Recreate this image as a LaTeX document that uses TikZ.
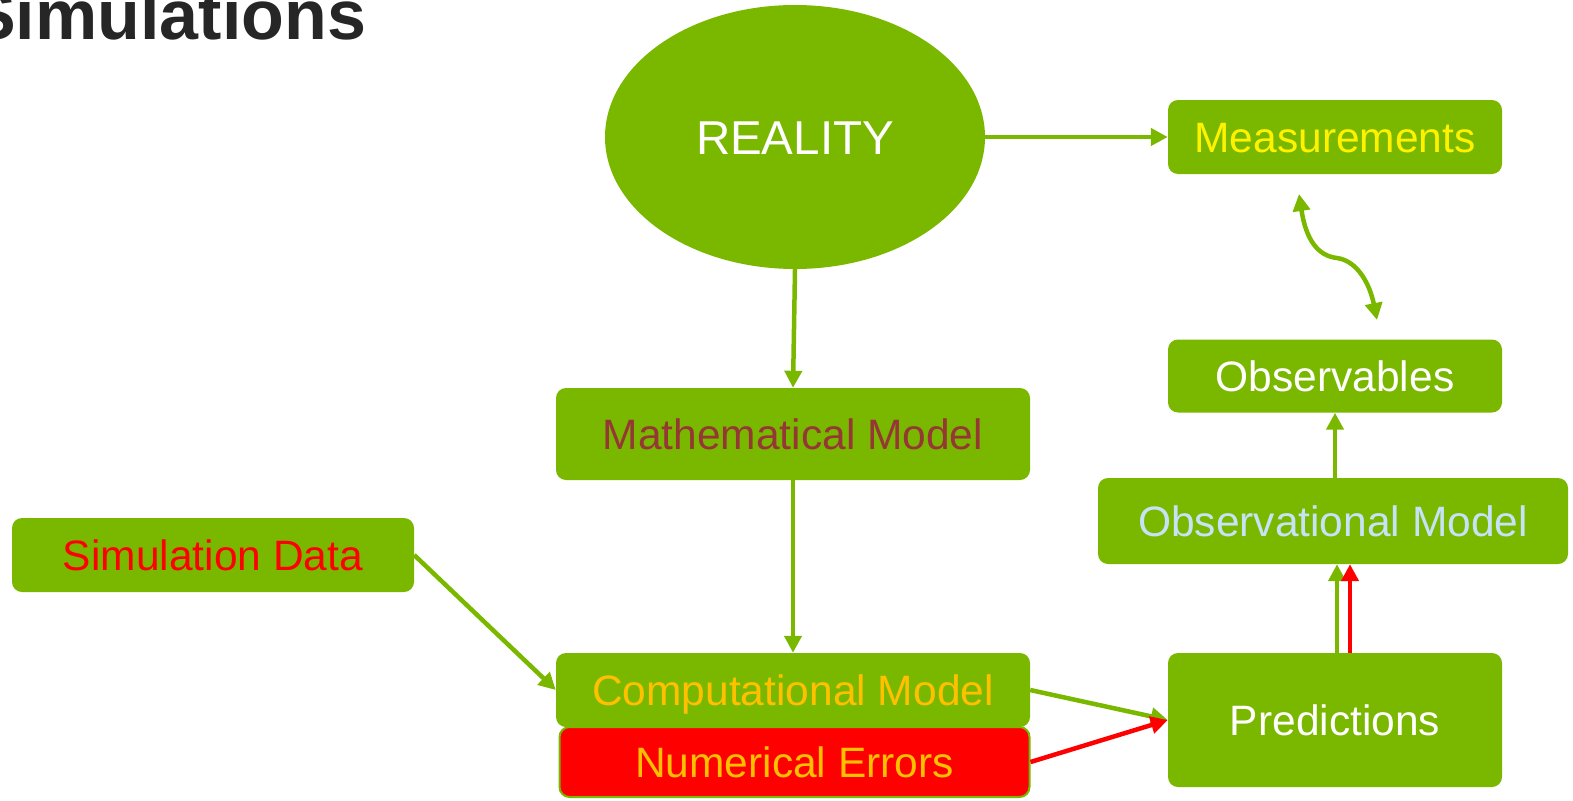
\documentclass[tikz,border=0pt]{standalone}
\usepackage{fontspec}
\setmainfont{Liberation Sans}
\usetikzlibrary{arrows.meta,shapes.geometric}
\definecolor{gr}{HTML}{7AB800}
\definecolor{titlec}{HTML}{262626}
\definecolor{mathc}{HTML}{953735}
\definecolor{obsmc}{HTML}{C6E2F7}
\definecolor{goldc}{HTML}{FFC000}
\begin{document}
\begin{tikzpicture}[x=1pt,y=-1pt,
  box/.style={fill=gr, rounded corners=10pt, inner sep=0pt,
    font=\fontsize{42.5}{50}\selectfont, text height=30pt, text depth=0pt},
  conn/.style={line width=4.5pt, -{Triangle[length=17pt,width=17pt]}},
  gconn/.style={conn, draw=gr},
  rconn/.style={conn, draw=red}]
\useasboundingbox (0,0) rectangle (1573,800);
\node[anchor=base west, font=\fontsize{70}{82}\selectfont\bfseries, text=titlec, inner sep=0pt] (title) at (-31,40) {Simulations};
\node[ellipse, fill=gr, minimum width=380pt, minimum height=264pt, inner sep=0pt,
  font=\fontsize{47.5}{56}\selectfont, text=white, text height=34pt, text depth=0pt] (real) at (795,137) {REALITY};
\node[box, minimum width=334pt, minimum height=74pt, text=yellow] (meas) at (1335,137) {Measurements};
\node[box, minimum width=334pt, minimum height=73pt, text=white] (obs) at (1335,376) {Observables};
\node[box, minimum width=470pt, minimum height=86pt, text=obsmc] (obsm) at (1333,521) {Observational Model};
\node[box, minimum width=334pt, minimum height=134pt, text=white] (pred) at (1335,720) {Predictions};
\node[box, minimum width=474pt, minimum height=92pt, text=mathc] (math) at (793,434) {Mathematical Model};
\node[box, minimum width=402pt, minimum height=74pt, text=red] (sim) at (213,555) {Simulation Data};
\node[box, minimum width=474pt, minimum height=74pt, text=goldc] (comp) at (793,690) {Computational Model};
\node[box, fill=red, draw=gr, line width=2pt, minimum width=470pt, minimum height=70pt, text=goldc] (num) at (794.5,762) {Numerical Errors};
\coordinate (cA) at (1299,194);
\coordinate (cB) at (1377,320);
\coordinate (gS) at ([xshift=2pt]pred.north);
\coordinate (rS) at ([xshift=15pt]pred.north);
\draw[gconn] (real.east) -- (meas.west);
\draw[gconn] (real.south) -- (math.north);
\draw[gconn] (math.south) -- (comp.north);
\draw[gconn] (sim.east) -- (comp.west);
\draw[gconn] (comp.east) -- (pred.west);
\draw[rconn] (num.east) -- (pred.west);
\draw[gconn] (gS) -- (obsm.south -| gS);
\draw[rconn] (rS) -- (obsm.south -| rS);
\draw[gconn] (obsm.north -| obs.south) -- (obs.south);
\draw[line width=4.5pt, draw=gr, {Triangle[length=17pt,width=17pt]}-{Triangle[length=17pt,width=17pt]}]
  (cA) .. controls (1306,240) and (1318,256) .. (1337,258) .. controls (1358,261) and (1370,285) .. (cB);
\end{tikzpicture}
\end{document}
